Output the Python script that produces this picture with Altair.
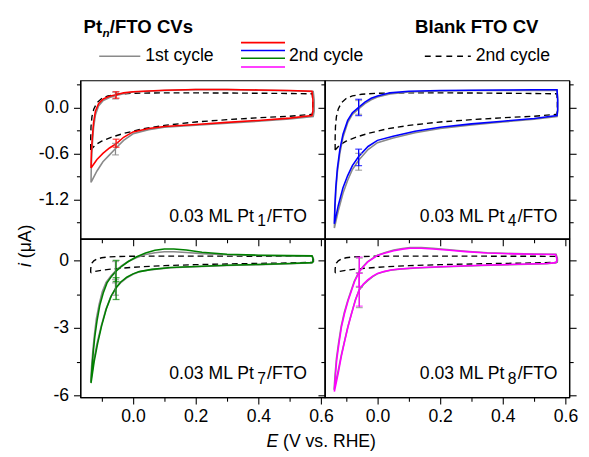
import altair as alt
import pandas as pd

# ---------------- data ----------------
X_DOMAIN = [-0.168, 0.612]
X_TICKS = [-0.1, 0.0, 0.1, 0.2, 0.3, 0.4, 0.5, 0.6]
Y_DOMAIN_TOP = [-1.716, 0.352]
Y_TICKS_TOP = [-1.5, -1.2, -0.9, -0.6, -0.3, 0.0, 0.3]
Y_DOMAIN_BOTTOM = [-6.087, 0.957]
Y_TICKS_BOTTOM = [-6, -4.5, -3, -1.5, 0]

PANEL_SUBS = ["1", "4", "7", "8"]
PANEL_COLORS = ["#ff0000", "#0000ff", "#008000", "#ff00ff"]
GREY = "#8a8a8a"

# Blank FTO CV (2nd cycle)
BLANK_E = [-0.135, -0.135, -0.134, -0.131, -0.125, -0.115, -0.1, -0.08, -0.05, 0.0,
           0.1, 0.2, 0.3, 0.4, 0.5, 0.572, 0.574, 0.574, 0.572, 0.5,
           0.4, 0.3, 0.2, 0.1, 0.03, -0.03, -0.07, -0.1, -0.12, -0.135]
BLANK_I = [-0.555, -0.4, -0.25, -0.12, -0.02, 0.06, 0.115, 0.15, 0.172, 0.185,
           0.19, 0.19, 0.188, 0.185, 0.182, 0.178, 0.08, -0.04, -0.09, -0.115,
           -0.135, -0.16, -0.19, -0.235, -0.28, -0.34, -0.39, -0.44, -0.49, -0.555]

# Pt1 / FTO
P1_C2_E = [-0.134, -0.133, -0.130, -0.126, -0.120, -0.110, -0.095, -0.075, -0.054, -0.030,
           0.000, 0.050, 0.100, 0.200, 0.300, 0.400, 0.500, 0.571, 0.574, 0.574,
           0.571, 0.500, 0.400, 0.300, 0.200, 0.100, 0.050, 0.000, -0.030, -0.052,
           -0.075, -0.096, -0.115, -0.134]
P1_C2_I = [-0.79, -0.60, -0.40, -0.20, -0.05, 0.05, 0.11, 0.145, 0.165, 0.19,
           0.205, 0.215, 0.225, 0.235, 0.235, 0.228, 0.22, 0.21, 0.10, -0.05,
           -0.107, -0.14, -0.17, -0.195, -0.222, -0.25, -0.275, -0.32, -0.39, -0.47,
           -0.53, -0.60, -0.68, -0.79]
P1_C1_E = [-0.134, -0.133, -0.130, -0.126, -0.120, -0.110, -0.095, -0.075, -0.054, -0.030,
           0.000, 0.050, 0.100, 0.200, 0.300, 0.400, 0.500, 0.575, 0.578, 0.578,
           0.575, 0.500, 0.400, 0.300, 0.200, 0.100, 0.050, 0.000, -0.030, -0.054,
           -0.075, -0.096, -0.115, -0.134]
P1_C1_I = [-0.98, -0.75, -0.50, -0.27, -0.10, 0.02, 0.09, 0.13, 0.155, 0.18,
           0.20, 0.212, 0.222, 0.232, 0.232, 0.225, 0.217, 0.208, 0.10, -0.05,
           -0.12, -0.15, -0.18, -0.205, -0.232, -0.26, -0.29, -0.345, -0.43, -0.53,
           -0.62, -0.71, -0.83, -0.98]

# Pt4 / FTO
P2_E = [-0.1375, -0.136, -0.133, -0.128, -0.120, -0.110, -0.095, -0.080, -0.060, -0.040,
        -0.020, 0.000, 0.040, 0.100, 0.200, 0.300, 0.400, 0.500, 0.573, 0.575,
        0.575, 0.573, 0.500, 0.400, 0.300, 0.200, 0.120, 0.050, 0.000, -0.030,
        -0.060, -0.080, -0.095, -0.110, -0.125, -0.1375]
P2_C2_I = [-1.52, -1.30, -1.05, -0.80, -0.55, -0.35, -0.17, -0.07, 0.00, 0.07,
           0.12, 0.15, 0.19, 0.21, 0.22, 0.225, 0.228, 0.23, 0.23, 0.10,
           -0.03, -0.107, -0.145, -0.18, -0.215, -0.26, -0.31, -0.375, -0.43, -0.51,
           -0.64, -0.76, -0.89, -1.05, -1.28, -1.52]
P2_C1_I = [-1.575, -1.35, -1.10, -0.85, -0.60, -0.39, -0.20, -0.09, -0.02, 0.05,
           0.10, 0.135, 0.175, 0.20, 0.215, 0.22, 0.222, 0.222, 0.222, 0.10,
           -0.04, -0.12, -0.155, -0.19, -0.228, -0.275, -0.33, -0.40, -0.46, -0.55,
           -0.69, -0.81, -0.95, -1.12, -1.35, -1.575]

# Pt7 / FTO
P3_C2_E = [-0.134, -0.131, -0.127, -0.122, -0.115, -0.106, -0.095, -0.083, -0.068, -0.054,
           -0.035, -0.015, 0.010, 0.040, 0.070, 0.100, 0.130, 0.170, 0.220, 0.300,
           0.400, 0.500, 0.571, 0.575, 0.575, 0.571,
           0.500, 0.400, 0.300, 0.200, 0.120, 0.060, 0.020, 0.000, -0.020, -0.040,
           -0.054, -0.070, -0.085, -0.100, -0.113, -0.124, -0.134]
P3_C2_I = [-5.46, -4.80, -4.10, -3.40, -2.70, -2.00, -1.45, -1.00, -0.70, -0.48,
           -0.25, -0.05, 0.15, 0.33, 0.45, 0.51, 0.51, 0.46, 0.36, 0.27,
           0.23, 0.21, 0.20, 0.05, -0.05, -0.10,
           -0.14, -0.18, -0.22, -0.27, -0.32, -0.40, -0.50, -0.60, -0.75, -0.97,
           -1.22, -1.60, -2.15, -2.90, -3.70, -4.50, -5.46]
P3_C1_E = [-0.135, -0.132, -0.128, -0.123, -0.117, -0.108, -0.098, -0.086, -0.070, -0.056,
           -0.037, -0.017, 0.010, 0.040, 0.070, 0.100, 0.130, 0.170, 0.220, 0.300,
           0.400, 0.500, 0.572, 0.576, 0.576, 0.572,
           0.500, 0.400, 0.300, 0.200, 0.120, 0.060, 0.020, 0.000, -0.020, -0.040,
           -0.056, -0.072, -0.087, -0.102, -0.115, -0.126, -0.135]
P3_C1_I = [-5.40, -4.70, -4.00, -3.30, -2.60, -1.95, -1.40, -0.98, -0.68, -0.47,
           -0.25, -0.06, 0.12, 0.26, 0.34, 0.38, 0.38, 0.35, 0.30, 0.25,
           0.22, 0.20, 0.19, 0.05, -0.05, -0.11,
           -0.15, -0.19, -0.23, -0.28, -0.33, -0.41, -0.51, -0.62, -0.78, -1.00,
           -1.25, -1.65, -2.20, -2.95, -3.70, -4.50, -5.40]

# Pt8 / FTO
P4_C2_E = [-0.1375, -0.134, -0.130, -0.123, -0.115, -0.105, -0.094, -0.083, -0.073, -0.058,
           -0.045, -0.031, -0.015, 0.000, 0.025, 0.052, 0.080, 0.104, 0.140, 0.177,
           0.230, 0.281, 0.350, 0.4375, 0.500, 0.568, 0.572, 0.572, 0.568,
           0.540, 0.450, 0.333, 0.220, 0.125, 0.070, 0.042, 0.020, 0.000, -0.015,
           -0.031, -0.045, -0.058, -0.070, -0.083, -0.094, -0.104, -0.115, -0.125, -0.1375]
P4_C2_I = [-5.84, -5.10, -4.42, -3.70, -2.97, -2.35, -1.81, -1.35, -0.94, -0.51,
           -0.28, -0.07, 0.08, 0.22, 0.33, 0.43, 0.50, 0.54, 0.54, 0.51,
           0.45, 0.39, 0.33, 0.29, 0.27, 0.26, 0.10, -0.05, -0.10,
           -0.14, -0.17, -0.22, -0.27, -0.33, -0.38, -0.43, -0.50, -0.58, -0.70,
           -0.87, -1.05, -1.30, -1.75, -2.39, -2.95, -3.55, -4.25, -5.00, -5.84]
P4_C1_E = [-0.1385, -0.135, -0.131, -0.124, -0.116, -0.106, -0.095, -0.084, -0.074, -0.059,
           -0.046, -0.032, -0.016, 0.000, 0.025, 0.052, 0.080, 0.104, 0.140, 0.177,
           0.230, 0.281, 0.350, 0.4375, 0.500, 0.570, 0.574, 0.574, 0.570,
           0.540, 0.450, 0.333, 0.220, 0.125, 0.070, 0.042, 0.020, 0.000, -0.015,
           -0.031, -0.045, -0.059, -0.071, -0.084, -0.095, -0.105, -0.116, -0.126, -0.1385]
P4_C1_I = [-5.75, -5.05, -4.38, -3.67, -2.95, -2.33, -1.80, -1.34, -0.93, -0.50,
           -0.27, -0.06, 0.09, 0.23, 0.35, 0.46, 0.53, 0.57, 0.57, 0.54,
           0.47, 0.41, 0.34, 0.30, 0.28, 0.27, 0.10, -0.05, -0.11,
           -0.15, -0.18, -0.23, -0.28, -0.34, -0.39, -0.44, -0.51, -0.60, -0.72,
           -0.90, -1.08, -1.33, -1.78, -2.42, -2.98, -3.58, -4.25, -4.95, -5.75]

# error bars: panel, cycle, E, low, high
BAR_PANEL = [0, 0, 0, 0, 1, 1, 1, 1, 2, 2, 2, 2, 3, 3, 3, 3]
BAR_CYCLE = [1, 1, 2, 2, 1, 1, 2, 2, 1, 1, 2, 2, 1, 1, 2, 2]
BAR_E = [-0.056, -0.056, -0.054, -0.054, -0.060, -0.060, -0.060, -0.060,
         -0.056, -0.056, -0.054, -0.054, -0.058, -0.058, -0.058, -0.058]
BAR_LO = [0.11, -0.62, 0.12, -0.52, -0.09, -0.82, -0.107, -0.76,
          -1.00, -1.55, -0.94, -1.74, -1.20, -2.10, -1.16, -2.03]
BAR_HI = [0.20, -0.47, 0.205, -0.415, 0.09, -0.60, 0.106, -0.545,
          -0.05, -0.85, 0.00, -0.77, 0.10, -0.55, 0.14, -0.58]

CURVES = [
    (P1_C1_E, P1_C1_I, P1_C2_E, P1_C2_I),
    (P2_E, P2_C1_I, P2_E, P2_C2_I),
    (P3_C1_E, P3_C1_I, P3_C2_E, P3_C2_I),
    (P4_C1_E, P4_C1_I, P4_C2_E, P4_C2_I),
]

# ---------------- styling / layout ----------------
FONT = "Liberation Sans"
FS = 18
W, H = 250, 162
OX, OY = 80.7, 75.7      # page position of the top-left plot area
ONE = pd.DataFrame({"k": [0]})

CW = {' ': 278, '(': 333, ')': 333, '.': 278, '/': 278, 'i': 222, 'E': 667}


def tw(s, size):
    return sum(CW.get(c, 556) for c in s) * size / 1000.0


def text(s, x, y, size=FS, weight="normal", style="normal", angle=0, align="left"):
    return alt.Chart(ONE).mark_text(
        text=s, font=FONT, fontSize=size, fontWeight=weight, fontStyle=style,
        align=align, baseline="alphabetic", angle=angle, color="black"
    ).encode(x=alt.value(x), y=alt.value(y))


def rule(x1, x2, y, color, dash=None, opacity=1):
    kw = dict(color=color, strokeWidth=1.6, strokeOpacity=opacity)
    if dash:
        kw["strokeDash"] = dash
    return alt.Chart(ONE).mark_rule(**kw).encode(
        x=alt.value(x1), x2=alt.value(x2), y=alt.value(y))


def curve_df(E, I):
    return pd.DataFrame({"E": E, "I": I, "o": list(range(len(E)))})


def panel(k):
    top = k < 2
    left = k % 2 == 0
    ydom = Y_DOMAIN_TOP if top else Y_DOMAIN_BOTTOM
    yt = Y_TICKS_TOP if top else Y_TICKS_BOTTOM
    if top:
        ytest = "abs(round(datum.value*10)) % 6 != 0"
        yfmt = "'.1f'"
    else:
        ytest = "abs(round(datum.value*10)) % 30 != 0"
        yfmt = "'d'"
    xtest = "abs(round(datum.value*10)) % 2 != 0"
    xs = alt.Scale(domain=X_DOMAIN, nice=False, zero=False)
    ys = alt.Scale(domain=ydom, nice=False, zero=False)
    ytick = {"condition": {"test": ytest, "value": 4}, "value": 7}
    xax = alt.Axis(values=X_TICKS, title=None, grid=False, labels=not top,
                   tickSize={"condition": {"test": xtest, "value": 4}, "value": 7},
                   labelExpr=f"{xtest} ? '' : format(datum.value, '.1f')",
                   labelFlush=False, labelOverlap=False, labelPadding=4)
    yax = alt.Axis(values=yt, title=None, grid=False, labels=left, tickSize=ytick,
                   labelExpr=f"{ytest} ? '' : (datum.value < -0.01 ? '-' : '') + format(abs(datum.value), {yfmt})",
                   labelFlush=False, labelOverlap=False, labelPadding=5)
    yax_r = alt.Axis(values=yt, title=None, grid=False, labels=False, tickSize=ytick,
                     orient="right")
    X = alt.X("E:Q", scale=xs, axis=xax)

    def Y(field, axis=None):
        return alt.Y(field, scale=ys, axis=axis)

    c1e, c1i, c2e, c2i = CURVES[k]
    col = PANEL_COLORS[k]
    layers = [
        alt.Chart(curve_df(BLANK_E, BLANK_I)).mark_line(
            color="black", strokeWidth=1.4, strokeDash=[6, 4]).encode(
            x=X, y=Y("I:Q", yax), order="o:Q"),
        alt.Chart(curve_df(c1e, c1i)).mark_line(color=GREY, strokeWidth=1.6).encode(
            x=X, y=Y("I:Q"), order="o:Q"),
        alt.Chart(curve_df(c2e, c2i)).mark_line(color=col, strokeWidth=1.6).encode(
            x=X, y=Y("I:Q"), order="o:Q"),
    ]
    if not left:
        layers.append(alt.Chart(curve_df(c2e, c2i)).mark_line(opacity=0).encode(
            x=X, y=Y("I:Q", yax_r), order="o:Q"))
    for cyc, c in ((1, GREY), (2, col)):
        idx = [j for j in range(len(BAR_PANEL)) if BAR_PANEL[j] == k and BAR_CYCLE[j] == cyc]
        bdf = pd.DataFrame({"E": [BAR_E[j] for j in idx], "lo": [BAR_LO[j] for j in idx],
                            "hi": [BAR_HI[j] for j in idx]})
        layers.append(alt.Chart(bdf).mark_rule(color=c, strokeWidth=1.3).encode(
            x=X, y=Y("lo:Q"), y2="hi:Q"))
        for f in ("lo", "hi"):
            layers.append(alt.Chart(bdf).mark_tick(color=c, orient="horizontal", size=7,
                                                    thickness=1.3).encode(
                x=X, y=Y(f"{f}:Q")))
    # panel label
    lx = 91 if left else 97.2
    ly = 144.3 if top else 143.7
    layers.append(text("0.03 ML Pt", lx, ly))
    layers.append(text(PANEL_SUBS[k], lx + 90, ly + 5, size=16))
    layers.append(text("/FTO", lx + 100, ly))

    if k == 0:
        def rx(v):
            return v - OX

        def ry(v):
            return v - OY
        # invisible anchor at the page's content corner (8, 8)
        layers.append(rule(rx(8), rx(12), ry(8), "white", opacity=0))
        # legend
        layers.append(text("Pt", rx(84), ry(27), size=19, weight="bold"))
        layers.append(text("n", rx(103.3), ry(31), size=12, weight="bold", style="italic"))
        layers.append(text("/FTO CVs", rx(110.8), ry(27), size=19, weight="bold"))
        layers.append(text("Blank FTO CV", rx(423), ry(27), size=19, weight="bold"))
        layers.append(rule(rx(100), rx(142), ry(51), GREY))
        layers.append(text("1st cycle", rx(147), ry(56)))
        for yy, c in zip([37, 45, 53, 62], PANEL_COLORS):
            layers.append(rule(rx(245), rx(290), ry(yy), c))
        layers.append(text("2nd cycle", rx(294), ry(56)))
        layers.append(rule(rx(433), rx(480), ry(51), "black", dash=[6, 5]))
        layers.append(text("2nd cycle", rx(485), ry(56)))
        # axis titles
        layers.append(text("E", rx(271), ry(451), style="italic"))
        layers.append(text("(V vs. RHE)", rx(271) + tw("E ", FS), ry(451)))
        layers.append(text("i", rx(30), ry(266.5), style="italic", angle=270))
        layers.append(text("(\u03bcA)", rx(30), ry(266.5) - tw("i ", FS), angle=270))
    return alt.layer(*layers).resolve_axis(y="independent").properties(width=W, height=H)


chart = alt.concat(panel(0), panel(1), panel(2), panel(3), columns=2,
                   spacing=0, bounds="flush").properties(
    padding={"left": 0, "top": 0, "right": 2, "bottom": 0}
).configure_view(stroke="black", strokeWidth=1.2).configure_axis(
    domainColor="black", tickColor="black", tickWidth=1.1, domainWidth=1.2,
    labelFont=FONT, labelFontSize=FS, labelColor="black"
)

chart.save("out.html", embed_options={"renderer": "svg", "actions": False})
